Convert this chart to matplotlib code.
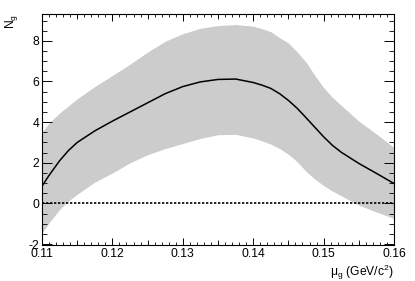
import numpy as np
import matplotlib
matplotlib.use("Agg")
import matplotlib.pyplot as plt
from matplotlib.ticker import MultipleLocator, FixedLocator, NullFormatter

plt.rcParams['font.family'] = ['Liberation Sans', 'DejaVu Sans']
plt.rcParams['mathtext.fontset'] = 'custom'
plt.rcParams['mathtext.rm'] = 'Liberation Sans'
plt.rcParams['mathtext.it'] = 'Liberation Sans'
plt.rcParams['mathtext.bf'] = 'Liberation Sans:bold'

# Data
mu = [0.110, 0.111, 0.1125, 0.11375, 0.115, 0.1175, 0.120, 0.1225, 0.125, 0.1275,
      0.130, 0.1325, 0.135, 0.1375, 0.140, 0.14125, 0.1425, 0.14375, 0.145, 0.14625,
      0.1475, 0.14875, 0.150, 0.15125, 0.1525, 0.155, 0.1575, 0.160]
n_central = [0.85, 1.38, 2.1, 2.6, 3.0, 3.57, 4.05, 4.5, 4.95, 5.4,
             5.75, 5.98, 6.1, 6.12, 5.95, 5.82, 5.66, 5.4, 5.07, 4.68,
             4.22, 3.75, 3.28, 2.86, 2.52, 1.97, 1.48, 0.98]
n_upper = [3.5, 3.95, 4.45, 4.8, 5.15, 5.75, 6.3, 6.85, 7.45, 7.98,
           8.35, 8.62, 8.75, 8.8, 8.72, 8.6, 8.45, 8.15, 7.9, 7.45,
           6.95, 6.3, 5.7, 5.22, 4.83, 4.05, 3.42, 2.75]
n_lower = [-1.45, -0.95, -0.3, 0.12, 0.45, 1.05, 1.5, 2.0, 2.4, 2.7,
           2.95, 3.2, 3.38, 3.4, 3.22, 3.08, 2.92, 2.7, 2.42, 2.05,
           1.58, 1.2, 0.88, 0.61, 0.38, -0.08, -0.42, -0.74]

xlim = (0.11, 0.16)
ylim = (-2.03, 9.32)
xticks = [0.11, 0.12, 0.13, 0.14, 0.15, 0.16]
xticklabels = ['0.11', '0.12', '0.13', '0.14', '0.15', '0.16']
yticks = [-2, 0, 2, 4, 6, 8]
yticklabels = ['-2', '0', '2', '4', '6', '8']

fig = plt.figure(figsize=(4.15, 2.81), dpi=100)
W, H = 415, 281
left, right, top, bottom = 42, 394, 14, 244.7
ax = fig.add_axes([left / W, 1 - bottom / H, (right - left) / W, (bottom - top) / H])

ax.fill_between(mu, n_lower, n_upper, color='#cccccc', linewidth=0, zorder=1)
ax.plot(mu, n_central, color='black', lw=1.1, zorder=3)
ax.axhline(0, color='black', lw=1.2, linestyle=(0, (1.4, 1.0)), zorder=2)

ax.set_xlim(*xlim)
ax.set_ylim(*ylim)
ax.set_xticks(xticks)
ax.set_xticklabels(xticklabels)
ax.set_yticks(yticks)
ax.set_yticklabels(yticklabels)
ax.xaxis.set_minor_locator(MultipleLocator(0.001))
ax.yaxis.set_minor_locator(MultipleLocator(0.5))

fs = 8.7
ax.tick_params(axis='x', which='major', direction='in', length=5, width=0.7,
               top=True, bottom=True, labelsize=fs, pad=2.5)
ax.tick_params(axis='x', which='minor', direction='in', length=1.9, width=0.6,
               top=True, bottom=True)
ax.tick_params(axis='y', which='major', direction='in', length=7.2, width=0.7,
               left=True, right=True, labelsize=fs, pad=2.2)
ax.tick_params(axis='y', which='minor', direction='in', length=3.8, width=0.6,
               left=True, right=True)

# medium ticks at half-divisions on the x axis (bottom and top)
for loc in ('bottom', 'top'):
    sec = ax.secondary_xaxis(loc)
    sec.xaxis.set_major_locator(FixedLocator([0.115, 0.125, 0.135, 0.145, 0.155]))
    sec.xaxis.set_major_formatter(NullFormatter())
    sec.tick_params(direction='in', length=3.3, width=0.6)
    for s in sec.spines.values():
        s.set_visible(False)

for s in ax.spines.values():
    s.set_linewidth(0.8)

ax.set_xlabel(r'$\mathregular{\mu_g}$ (GeV/c$^{\mathregular{2}}$)', fontsize=fs,
              ha='right')
ax.xaxis.set_label_coords(1.0, -0.078)
ax.set_ylabel(r'$\mathregular{N_g}$', fontsize=fs, ha='right')
ax.yaxis.set_label_coords(-0.063, 1.0)

fig.savefig('out.png', dpi=100)
